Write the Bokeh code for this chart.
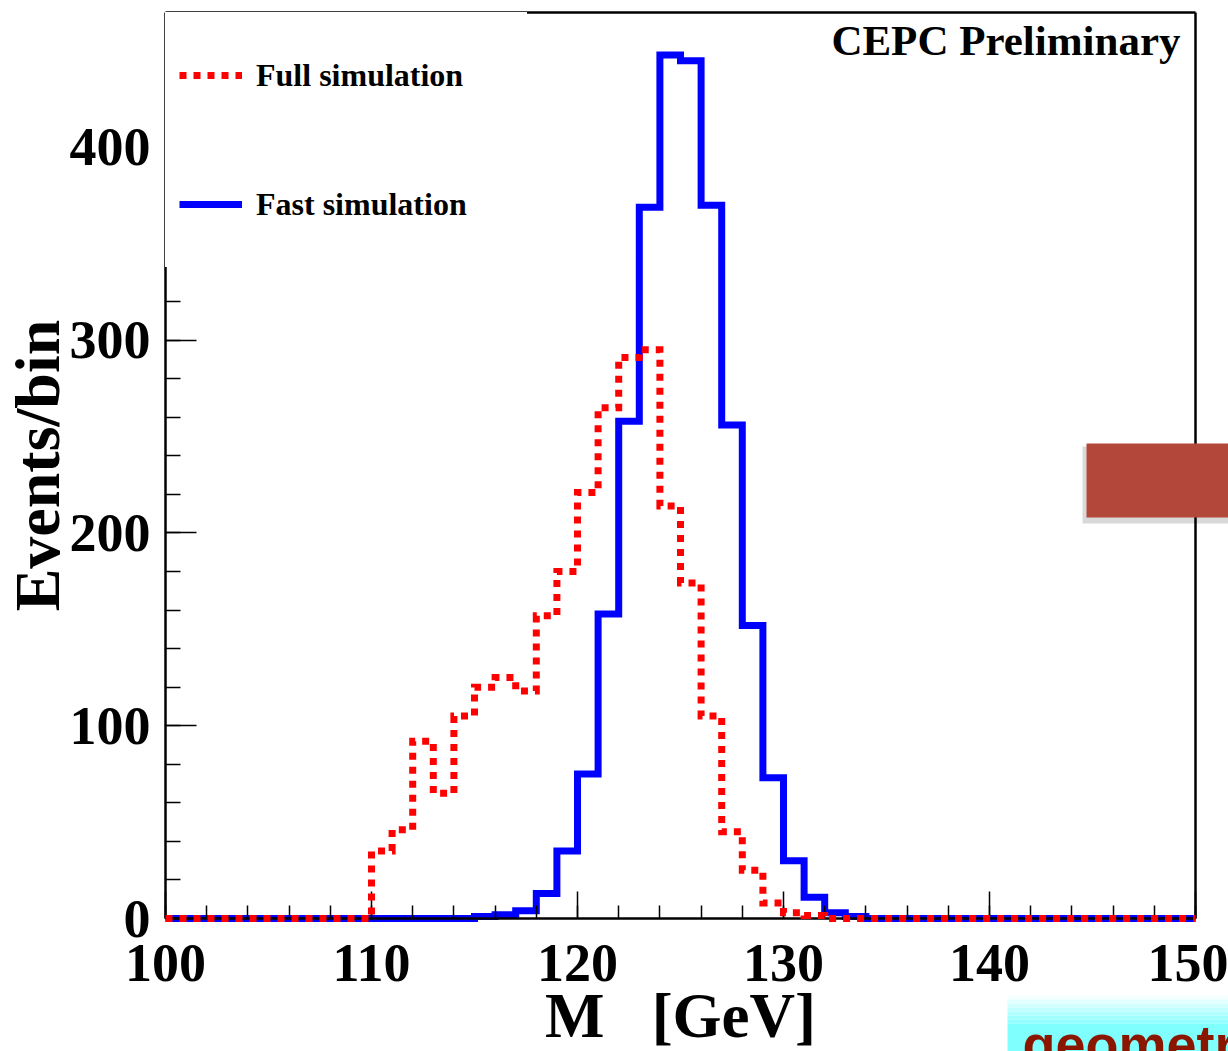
import math
from bokeh.plotting import figure
from bokeh.models import FixedTicker, Legend, LegendItem, Label, BoxAnnotation
from bokeh.embed import file_html
from bokeh.resources import INLINE

# ---------------- data ----------------
bin_low_edges = list(range(100, 150))          # 1 GeV bins, 100..150
full_simulation = [
    0, 0, 0, 0, 0, 0, 0, 0, 0, 0,               # 100-109
    35, 46, 92, 65, 105, 120, 125, 118, 157, 180,  # 110-119
    221, 265, 291, 295, 214, 174, 105, 45, 25, 8,  # 120-129
    3, 1.5, 0, 0, 0, 0, 0, 0, 0, 0,             # 130-139
    0, 0, 0, 0, 0, 0, 0, 0, 0, 0,               # 140-149
]
fast_simulation = [
    0, 0, 0, 0, 0, 0, 0, 0, 0, 0,               # 100-109
    0, 0, 0, 0, 0, 1, 2, 4, 13, 35,             # 110-119
    75, 158, 258, 369, 448, 445, 370, 256, 152, 73,  # 120-129
    30, 11, 3, 1, 0, 0, 0, 0, 0, 0,             # 130-139
    0, 0, 0, 0, 0, 0, 0, 0, 0, 0,               # 140-149
]
x_major_ticks = [100, 110, 120, 130, 140, 150]
x_minor_ticks = list(range(100, 151, 2))
y_major_ticks = [0, 100, 200, 300, 400]
y_minor_ticks = list(range(0, 470, 20))
series_names = ["Full simulation", "Fast simulation"]
x_title = "M\u00a0\u00a0\u00a0[GeV]"
y_title = "Events/bin"
stamp_text = "CEPC Preliminary"
corner_text = "geometry"

# axis extents of the histogram frame
X_LO, X_HI = 100, 150
Y_LO, Y_HI = 0, 470

# ---------------- page geometry ----------------
W, H = 1228, 1051
FRAME_L, FRAME_R = 165, 1195      # pixel columns of x = 100 and x = 150
FRAME_T, FRAME_B = 12, 918        # pixel rows of y = 470 and y = 0
px_per_x = (FRAME_R - FRAME_L) / (X_HI - X_LO)
px_per_y = (FRAME_B - FRAME_T) / (Y_HI - Y_LO)
x_view = (X_LO - FRAME_L / px_per_x, X_HI + (W - FRAME_R) / px_per_x)
y_view = (Y_LO - (H - FRAME_B) / px_per_y, Y_HI + FRAME_T / px_per_y)

SERIF = "Liberation Serif"

p = figure(width=W, height=H, x_range=x_view, y_range=y_view,
           output_backend="svg", toolbar_location=None,
           min_border=0, min_border_left=0, min_border_right=0,
           min_border_top=0, min_border_bottom=0)
p.outline_line_color = None
p.xgrid.visible = False
p.ygrid.visible = False
p.background_fill_color = "white"
p.border_fill_color = "white"

# ---- axes (ROOT style: inward ticks), pinned to the histogram frame ----
p.xaxis.fixed_location = Y_LO
p.yaxis.fixed_location = X_LO
p.xaxis.bounds = (X_LO, X_HI)
p.yaxis.bounds = (Y_LO, Y_HI)
p.xaxis.ticker = FixedTicker(ticks=x_major_ticks, minor_ticks=x_minor_ticks)
p.yaxis.ticker = FixedTicker(ticks=y_major_ticks, minor_ticks=y_minor_ticks)
for ax in (p.xaxis, p.yaxis):
    ax.axis_line_color = "black"
    ax.axis_line_width = 2.5
    ax.major_tick_line_color = "black"
    ax.minor_tick_line_color = "black"
    ax.major_tick_line_width = 1.5
    ax.minor_tick_line_width = 1.5
    ax.major_tick_out = 0
    ax.minor_tick_out = 0
    ax.major_label_text_font = SERIF
    ax.major_label_text_font_style = "bold"
    ax.major_label_text_font_size = "54px"
    ax.major_label_text_color = "black"
    ax.axis_label_text_font = SERIF
    ax.axis_label_text_font_style = "bold"
    ax.axis_label_text_color = "black"
p.xaxis.major_tick_in = 27
p.xaxis.minor_tick_in = 13
p.yaxis.major_tick_in = 31
p.yaxis.minor_tick_in = 15
p.xaxis.major_label_standoff = 26
p.yaxis.major_label_standoff = 15
p.xaxis.axis_label = x_title
p.yaxis.axis_label = y_title
p.xaxis.axis_label_text_font_size = "63px"
p.yaxis.axis_label_text_font_size = "64px"
p.xaxis.axis_label_standoff = -3
p.yaxis.axis_label_standoff = -6

# ---- histograms ----
edges = bin_low_edges + [X_HI]
fast_y = fast_simulation + [fast_simulation[-1]]
full_y = full_simulation + [full_simulation[-1]]

r_fast = p.step(edges, fast_y, mode="after", line_color="#0000ff",
                line_width=7, line_join="miter")
r_full = p.step(edges, full_y, mode="after", line_color="#ff0000",
                line_width=7, line_dash="7 7", line_join="miter",
                level="overlay")

# ---- frame border (right and top edges) ----
p.segment(x0=[X_HI, X_LO], y0=[Y_LO, Y_HI], x1=[X_HI, X_HI], y1=[Y_HI, Y_HI],
          line_color="black", line_width=2.5)

# ---- legend ----
LEG_PAD, LEG_ITEM_H, LEG_SPACING = 14, 98, 31
leg_h = 2 * LEG_PAD + 2 * LEG_ITEM_H + LEG_SPACING
legend = Legend(items=[LegendItem(label=series_names[0], renderers=[r_full]),
                       LegendItem(label=series_names[1], renderers=[r_fast])],
                location=(FRAME_L, H - FRAME_T - leg_h), margin=0,
                padding=LEG_PAD, spacing=LEG_SPACING,
                glyph_width=63, glyph_height=LEG_ITEM_H, label_height=LEG_ITEM_H,
                label_width=257, label_standoff=14,
                label_text_font=SERIF, label_text_font_style="bold",
                label_text_font_size="32px", label_text_color="black",
                background_fill_color="white", background_fill_alpha=1.0,
                border_line_color="black", border_line_alpha=0.0)
p.add_layout(legend)

# ---- stamp ----
p.add_layout(Label(x=1180, y=40, x_units="canvas", y_units="canvas",
                   text=stamp_text, text_align="right", text_baseline="alphabetic",
                   text_font=SERIF, text_font_style="bold",
                   text_font_size="43px", text_color="black"))

# ---- slide decorations ----
def canvas_box(l, r, t, b, color, alpha=1.0):
    p.add_layout(BoxAnnotation(left=l, right=r, top=t, bottom=b,
                               left_units="canvas", right_units="canvas",
                               top_units="canvas", bottom_units="canvas",
                               fill_color=color, fill_alpha=alpha,
                               line_color=None))

canvas_box(1082, W, 446, 523, "#000000", 0.15)
canvas_box(1086, W, 443, 517, "#b3473a")

band_top = 995
bands = 8
for i in range(bands):
    t = i / (bands - 1)
    g = int(round(0xf4 + (0x80 - 0xf4) * t))
    top = band_top + i * 4
    bot = band_top + (i + 1) * 4 if i < bands - 1 else H
    canvas_box(1007, W, top, bot, "#%02xffff" % g)

p.add_layout(Label(x=1022, y=1043, x_units="canvas", y_units="canvas",
                   text=corner_text, text_align="left", text_baseline="alphabetic",
                   text_font="Liberation Sans", text_font_style="bold",
                   text_font_size="54px", text_color="#8b1600"))

open("out.html", "w").write(file_html(p, INLINE))
